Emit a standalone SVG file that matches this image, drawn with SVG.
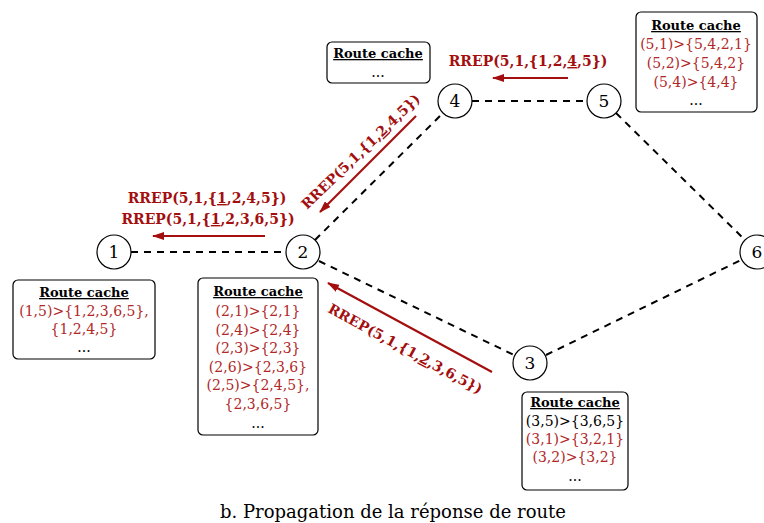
<svg xmlns="http://www.w3.org/2000/svg" width="764" height="523" viewBox="0 0 764 523">
<style>
.node circle{fill:#fff;stroke:#000;stroke-width:1.2}
.node text{font-family:"DejaVu Serif",serif;font-size:17px;text-anchor:middle;fill:#000}
.dash{stroke:#000;stroke-width:2;stroke-dasharray:7,6;fill:none}
.arr{stroke:#a30f0f;stroke-width:2.2;fill:none;marker-end:url(#ah)}
.lbl{font-family:"DejaVu Serif",serif;font-size:14px;font-weight:bold;fill:#a30f0f;text-anchor:middle}
.box rect{fill:#fff;stroke:#000;stroke-width:1.2}
.box text{font-family:"DejaVu Serif",serif;font-size:14px;text-anchor:middle;fill:#b02828}
.box text.t{font-weight:bold;font-size:13px;fill:#000;text-decoration:underline}
.box text.k{fill:#000}
.u{text-decoration:underline}
.cap{font-family:"DejaVu Serif",serif;font-size:18px;text-anchor:middle;fill:#000}
</style>
<defs>
<marker id="ah" viewBox="0 0 12 8" refX="11" refY="4" markerWidth="12" markerHeight="8" markerUnits="userSpaceOnUse" orient="auto">
<path d="M0,0 L12,4 L0,8 Z" fill="#a30f0f"/>
</marker>
</defs>
<g id="connectors">
<line class="dash" x1="131" y1="252" x2="286" y2="252"/>
<line class="dash" x1="315" y1="240" x2="443" y2="113"/>
<line class="dash" x1="472" y1="101" x2="587" y2="101"/>
<line class="dash" x1="616" y1="113" x2="745" y2="240"/>
<line class="dash" x1="319" y1="261" x2="514" y2="355"/>
<line class="dash" x1="546" y1="355" x2="741" y2="260"/>
<line class="arr" x1="568" y1="78" x2="493" y2="78"/>
<line class="arr" x1="265" y1="236" x2="153" y2="236"/>
<line class="arr" x1="416" y1="116" x2="320" y2="212"/>
<line class="arr" x1="492" y1="372" x2="328" y2="283"/>
<text class="lbl" x="528" y="66">RREP(5,1,{1,2,<tspan class="u">4</tspan>,5})</text>
<text class="lbl" x="207" y="203">RREP(5,1,{<tspan class="u">1</tspan>,2,4,5})</text>
<text class="lbl" x="208" y="224">RREP(5,1,{<tspan class="u">1</tspan>,2,3,6,5})</text>
<text class="lbl" transform="translate(364,155) rotate(-44)">RREP(5,1,{1,<tspan class="u">2</tspan>,4,5})</text>
<text class="lbl" transform="translate(403,353) rotate(28.5)">RREP(5,1,{1,<tspan class="u">2</tspan>,3,6,5})</text>
</g>
<g id="n1" class="node"><circle cx="114" cy="252" r="17"/><text x="114" y="258">1</text></g>
<g id="n2" class="node"><circle cx="303" cy="252" r="17"/><text x="303" y="258">2</text></g>
<g id="n3" class="node"><circle cx="530" cy="363" r="17"/><text x="530" y="369">3</text></g>
<g id="n4" class="node"><circle cx="455" cy="101" r="17"/><text x="455" y="107">4</text></g>
<g id="n5" class="node"><circle cx="604" cy="101" r="17"/><text x="604" y="107">5</text></g>
<g id="n6" class="node"><circle cx="757" cy="252" r="17"/><text x="757" y="258">6</text></g>
<g id="cache1" class="box">
<rect x="13" y="280" width="142" height="79" rx="5"/>
<text class="t" x="84" y="297">Route cache</text>
<text x="84" y="316">(1,5)&gt;{1,2,3,6,5},</text>
<text x="84" y="334">{1,2,4,5}</text>
<text class="k" x="84" y="352">...</text>
</g>
<g id="cache2" class="box">
<rect x="198" y="278" width="120" height="157" rx="5"/>
<text class="t" x="258" y="296">Route cache</text>
<text x="258" y="316">(2,1)&gt;{2,1}</text>
<text x="258" y="334.5">(2,4)&gt;{2,4}</text>
<text x="258" y="353">(2,3)&gt;{2,3}</text>
<text x="258" y="371.5">(2,6)&gt;{2,3,6}</text>
<text x="258" y="390">(2,5)&gt;{2,4,5},</text>
<text x="258" y="408.5">{2,3,6,5}</text>
<text class="k" x="258" y="428">...</text>
</g>
<g id="cache3" class="box">
<rect x="522" y="392" width="106" height="98" rx="5"/>
<text class="t" x="575" y="407">Route cache</text>
<text class="k" x="575" y="426">(3,5)&gt;{3,6,5}</text>
<text x="575" y="444">(3,1)&gt;{3,2,1}</text>
<text x="575" y="462">(3,2)&gt;{3,2}</text>
<text class="k" x="575" y="481">...</text>
</g>
<g id="cache4" class="box">
<rect x="327" y="42" width="103" height="41" rx="5"/>
<text class="t" x="378" y="58">Route cache</text>
<text class="k" x="378" y="77">...</text>
</g>
<g id="cache5" class="box">
<rect x="636" y="12" width="121" height="100" rx="5"/>
<text class="t" x="696" y="30">Route cache</text>
<text x="696" y="49">(5,1)&gt;{5,4,2,1}</text>
<text x="696" y="68">(5,2)&gt;{5,4,2}</text>
<text x="696" y="87">(5,4)&gt;{4,4}</text>
<text class="k" x="696" y="105">...</text>
</g>
<text id="caption" class="cap" x="393" y="518">b. Propagation de la réponse de route</text>
</svg>
